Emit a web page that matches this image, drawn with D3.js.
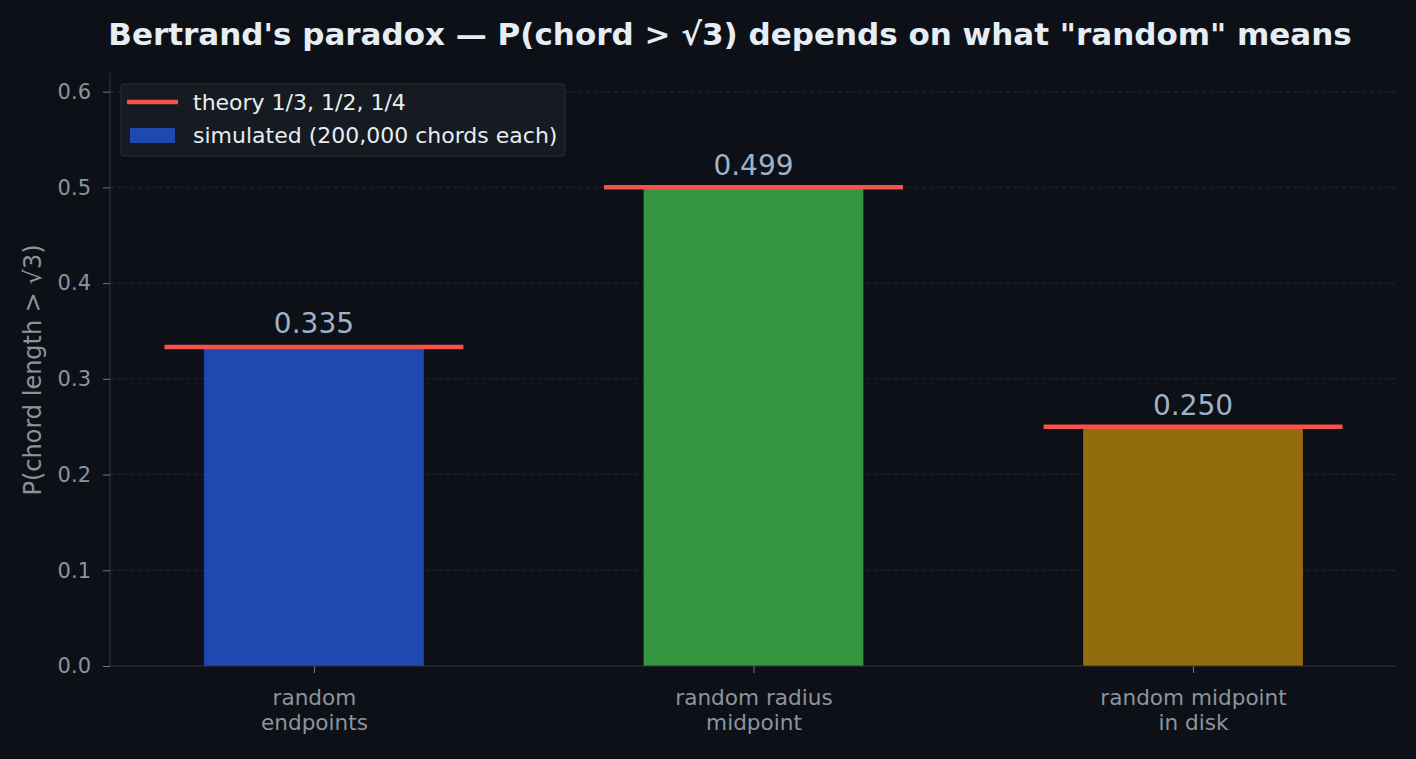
<!DOCTYPE html>
<html><head><meta charset="utf-8">
<script src="https://cdn.jsdelivr.net/npm/d3@7"></script>
<style>
html,body{margin:0;padding:0;background:#0d1017;}
svg{display:block;font-family:"DejaVu Sans",sans-serif;}
</style></head>
<body><svg id="c" width="1416" height="759"></svg>
<script>
const categories = ["random\nendpoints", "random radius\nmidpoint", "random midpoint\nin disk"];
const simulated = [0.335, 0.499, 0.250];
const theory = [1/3, 1/2, 1/4];
const barColors = ["#1f48b0", "#36953f", "#936c0d"];
const yTicks = [0.0, 0.1, 0.2, 0.3, 0.4, 0.5, 0.6];
const legendLabels = ["theory 1/3, 1/2, 1/4", "simulated (200,000 chords each)"];
const titleText = "Bertrand's paradox \u2014 P(chord > \u221A3) depends on what \"random\" means";
const yLabel = "P(chord length > \u221A3)";

const svg = d3.select("#c");
const L = 110, R = 1397, T = 72.5, B = 666;
const x = d3.scaleLinear().domain([-0.464, 2.464]).range([L, R]);
const y = d3.scaleLinear().domain([0, 0.62]).range([B, T]);

svg.append("rect").attr("width",1416).attr("height",759).attr("fill","#0d1017");

// grid
svg.append("g").selectAll("line").data(yTicks.slice(1)).join("line")
  .attr("x1",L).attr("x2",R).attr("y1",d=>y(d)).attr("y2",d=>y(d))
  .attr("stroke","#222831").attr("stroke-width",1).attr("stroke-dasharray","4,3");

// bars
const bw = 0.5;
svg.append("g").selectAll("rect").data(simulated).join("rect")
  .attr("x",(d,i)=>x(i-bw/2)).attr("width",(d,i)=>x(i+bw/2)-x(i-bw/2))
  .attr("y",d=>y(d)).attr("height",d=>B-y(d))
  .attr("fill",(d,i)=>barColors[i]);

// theory lines
svg.append("g").selectAll("line").data(theory).join("line")
  .attr("x1",(d,i)=>x(i-0.34)).attr("x2",(d,i)=>x(i+0.34))
  .attr("y1",d=>y(d)).attr("y2",d=>y(d))
  .attr("stroke","#f85149").attr("stroke-width",4.5);

// value labels
svg.append("g").selectAll("text").data(simulated).join("text")
  .attr("x",(d,i)=>x(i)).attr("y",(d,i)=>y(Math.max(d,theory[i]))-12)
  .attr("text-anchor","middle").attr("fill","#9fb2c8").attr("font-size",28)
  .text(d=>d.toFixed(3));

// axes
const yAxis = d3.axisLeft(y).tickValues(yTicks).tickFormat(d3.format(".1f")).tickSize(7).tickPadding(12);
const gy = svg.append("g").attr("transform",`translate(${L},0)`).call(yAxis);
gy.select(".domain").attr("stroke","#30363d").attr("d",`M0,${T}V${B}`);
gy.selectAll(".tick line").attr("stroke","#6e7681");
gy.selectAll(".tick text").attr("fill","#8b949e").attr("font-size",21).attr("font-family","DejaVu Sans");

const gx = svg.append("g").attr("transform",`translate(0,${B})`)
  .call(d3.axisBottom(x).tickValues([0,1,2]).tickFormat("").tickSize(7));
gx.select(".domain").attr("stroke","#30363d").attr("d",`M${L},0H${R}`);
gx.selectAll(".tick line").attr("stroke","#6e7681");
gx.selectAll(".tick").each(function(d){
  const t = d3.select(this).append("text").attr("fill","#8b949e").attr("font-size",21.6)
    .attr("text-anchor","middle").attr("font-family","DejaVu Sans");
  categories[d].split("\n").forEach((s,k)=>t.append("tspan").attr("x",0).attr("y",39+k*25).text(s));
});

// y label
svg.append("text").attr("transform",`translate(41,370) rotate(-90)`)
  .attr("text-anchor","middle").attr("fill","#8b949e").attr("font-size",24).text(yLabel);

// title
svg.append("text").attr("x",730).attr("y",45).attr("text-anchor","middle")
  .attr("fill","#e6edf3").attr("font-size",31).attr("font-weight","bold").text(titleText);

// legend
const lg = svg.append("g");
lg.append("rect").attr("x",121).attr("y",84).attr("width",444).attr("height",72).attr("rx",3)
  .attr("fill","#161a21").attr("stroke","#2b3039").attr("stroke-width",1);
lg.append("line").attr("x1",127).attr("x2",178).attr("y1",102).attr("y2",102)
  .attr("stroke","#f85149").attr("stroke-width",4.5);
lg.append("rect").attr("x",130).attr("y",128).attr("width",45).attr("height",15).attr("fill",barColors[0]);
lg.selectAll("text.l").data(legendLabels).join("text").attr("class","l")
  .attr("x",193).attr("y",(d,i)=>110+i*33).attr("fill","#e6edf3").attr("font-size",22).text(d=>d);
</script></body></html>
